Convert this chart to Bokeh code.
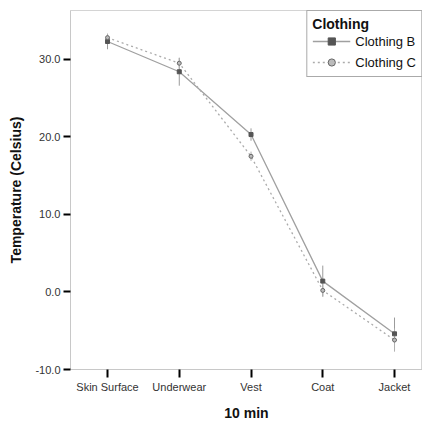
from bokeh.plotting import figure
from bokeh.models import FixedTicker, Legend, LegendItem, Range1d
from bokeh.embed import file_html
from bokeh.resources import INLINE

categories = ["Skin Surface", "Underwear", "Vest", "Coat", "Jacket"]
series_names = ["Clothing B", "Clothing C"]
b_mean = [32.3, 28.4, 20.3, 1.4, -5.4]
b_err = [1.0, 1.8, 0.8, 2.0, 2.1]
c_mean = [32.8, 29.5, 17.5, 0.2, -6.2]
c_err = [0.5, 0.7, 0.6, 0.8, 1.5]
y_ticks = [-10, 0, 10, 20, 30]
y_tick_labels = ["-10.0", "0.0", "10.0", "20.0", "30.0"]

xs = list(range(1, len(categories) + 1))

p = figure(width=422, height=424, output_backend="svg", toolbar_location=None,
           x_range=Range1d(0.484, 5.39), y_range=Range1d(-10, 36.3),
           min_border_left=70, min_border_right=0, min_border_top=10, min_border_bottom=55)
p.background_fill_color = "white"
p.outline_line_color = "#d4d4d4"
p.grid.visible = False

FONT = "Liberation Sans"
for ax in (p.xaxis[0], p.yaxis[0]):
    ax.axis_line_color = "#c8c8c8"
    ax.major_tick_line_color = "black"
    ax.major_tick_line_width = 2
    ax.major_tick_in = 0
    ax.minor_tick_line_color = None
    ax.major_label_text_font = FONT
    ax.major_label_text_font_size = "11px"
    ax.major_label_text_color = "#333333"
    ax.axis_label_text_font = FONT
    ax.axis_label_text_font_size = "14px"
    ax.axis_label_text_font_style = "bold"
    ax.axis_label_text_color = "#111111"

p.xaxis.ticker = FixedTicker(ticks=xs)
p.xaxis.major_label_overrides = {x: c for x, c in zip(xs, categories)}
p.xaxis.major_tick_out = 8
p.xaxis.major_label_standoff = 3
p.xaxis.axis_label = "10 min"
p.xaxis.axis_label_standoff = 9

p.yaxis.ticker = FixedTicker(ticks=y_ticks)
p.yaxis.major_label_overrides = {t: l for t, l in zip(y_ticks, y_tick_labels)}
p.yaxis.major_tick_out = 7
p.yaxis.major_label_standoff = 3
p.yaxis.axis_label = "Temperature (Celsius)"
p.yaxis.axis_label_standoff = 8

# error bars
p.segment(x0=xs, x1=xs, y0=[m - e for m, e in zip(b_mean, b_err)],
          y1=[m + e for m, e in zip(b_mean, b_err)], line_color="#9a9a9a", line_width=1)
p.segment(x0=xs, x1=xs, y0=[m - e for m, e in zip(c_mean, c_err)],
          y1=[m + e for m, e in zip(c_mean, c_err)], line_color="#b0b0b0", line_width=1)

lb = p.line(xs, b_mean, line_color="#a0a0a0", line_width=1.3)
lc = p.line(xs, c_mean, line_color="#ababab", line_width=1.3, line_dash="2 3")
mb = p.scatter(xs, b_mean, marker="square", size=4, fill_color="#555555", line_color="#555555")
mc = p.scatter(xs, c_mean, marker="circle", size=4, fill_color="#bbbbbb", line_color="#666666")

legend = Legend(items=[LegendItem(label=series_names[0], renderers=[lb, mb]),
                       LegendItem(label=series_names[1], renderers=[lc, mc])],
                location="top_right", title="Clothing")
legend.margin = 0
legend.padding = 5
legend.spacing = 3
legend.glyph_width = 38
legend.glyph_height = 18
legend.label_height = 18
legend.label_standoff = 5
legend.label_text_font = FONT
legend.label_text_font_size = "13px"
legend.label_text_color = "#111111"
legend.title_text_font = FONT
legend.title_text_font_size = "14px"
legend.title_text_font_style = "bold"
legend.title_text_color = "#111111"
legend.title_standoff = 0
legend.border_line_color = "#555555"
legend.border_line_width = 1.5
legend.background_fill_color = "white"
legend.background_fill_alpha = 1
p.add_layout(legend, "center")

open("out.html", "w").write(file_html(p, INLINE))
